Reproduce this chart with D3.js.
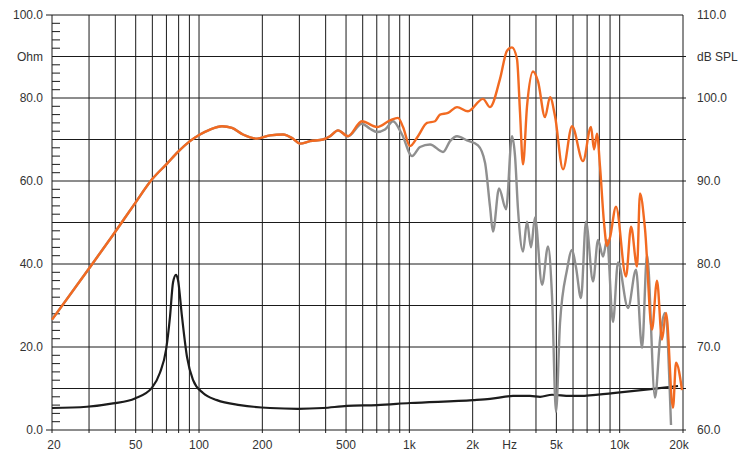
<!DOCTYPE html>
<html>
<head>
<meta charset="utf-8">
<script src="https://cdn.jsdelivr.net/npm/d3@7"></script>
<style>
  body { margin: 0; background: #fff; }
  svg { display: block; }
  text { font-family: "Liberation Sans", Arial, Helvetica, sans-serif; font-size: 12px; fill: #333; }
</style>
</head>
<body>
<script>
// impedance curve (left axis, Ohm)
const impFreq = [20, 29.3, 39, 49.6, 59.8, 65.2, 69.7, 72.8, 75.2, 77.7, 79.4, 83, 87.7, 93.6, 104.5, 121.7, 156.6, 217.6, 295.6, 388.6, 505, 702, 1007, 2007, 2418, 3110, 3746, 4182, 4768, 5804, 6475, 9294, 14400, 18940];
const impOhm = [5.3, 5.6, 6.4, 7.6, 10.2, 13.8, 19.3, 27.3, 35.5, 37.4, 36.2, 27.3, 17.6, 12.1, 8.9, 7.2, 6.0, 5.3, 5.1, 5.3, 5.8, 6.0, 6.5, 7.2, 7.5, 8.2, 8.2, 8.0, 8.5, 8.2, 8.2, 8.9, 9.9, 10.6];

// on-axis SPL (right axis, dB)
const splFreq = [20, 29.7, 39, 49.6, 59.8, 70.5, 79.4, 90.6, 101, 112.8, 128.6, 143.5, 161.8, 188.7, 217.6, 250.8, 279.8, 302, 337, 388.6, 419.6, 457.9, 511, 595, 702, 809, 883, 933, 1007, 1099, 1213, 1324, 1399, 1527, 1685, 1900, 2240, 2418, 2698, 2913, 3076, 3249, 3358, 3470, 3626, 3872, 4090, 4416, 4664, 4928, 5378, 5935, 6692, 7306, 7550, 7802, 8060, 8422, 8704, 8996, 9606, 10716, 11325, 12092, 12490, 13196, 14243, 15046, 15894, 16606, 17930, 18526, 19784];
const splDb = [73.3, 79.3, 83.5, 87.3, 90.2, 92.1, 93.5, 94.8, 95.6, 96.2, 96.6, 96.4, 95.6, 95.1, 95.5, 95.6, 95.1, 94.5, 94.8, 95.0, 95.4, 96.1, 95.4, 97.2, 96.5, 97.3, 97.6, 96.5, 94.2, 95.4, 97.0, 97.2, 98.0, 98.2, 98.9, 98.4, 99.9, 98.9, 102.3, 105.7, 106.1, 104.7, 98.3, 92.0, 99.0, 103.2, 102.0, 97.7, 100.1, 97.8, 91.4, 96.6, 92.4, 96.5, 93.8, 95.7, 91.8, 85.0, 82.2, 83.2, 86.9, 78.5, 84.5, 79.7, 88.5, 84.2, 72.1, 78.0, 70.9, 74.1, 62.7, 68.1, 64.8];

// off-axis SPL (right axis, dB), same as on-axis below ~500 Hz
const offFreq = [20, 29.7, 39, 49.6, 59.8, 70.5, 79.4, 90.6, 101, 112.8, 128.6, 143.5, 161.8, 188.7, 217.6, 250.8, 279.8, 302, 337, 388.6, 419.6, 457.9, 511, 595, 650, 702, 766, 836, 923, 1030, 1124, 1254, 1446, 1561, 1685, 1880, 2120, 2290, 2418, 2498, 2670, 2882, 3076, 3180, 3285, 3470, 3626, 3788, 3958, 4275, 4564, 4768, 4980, 5204, 5618, 5935, 6198, 6548, 6916, 7470, 7890, 8332, 8704, 9294, 9817, 10956, 11958, 12772, 13492, 14724, 15550, 16426, 17540];
const offDb = [73.3, 79.3, 83.5, 87.3, 90.2, 92.1, 93.5, 94.8, 95.6, 96.2, 96.6, 96.4, 95.6, 95.1, 95.5, 95.6, 95.1, 94.5, 94.8, 95.0, 95.4, 96.1, 95.4, 96.9, 96.3, 95.9, 96.2, 97.2, 95.6, 93.0, 94.1, 94.4, 93.5, 94.8, 95.4, 94.9, 94.3, 92.2, 86.9, 83.9, 89.1, 86.6, 95.4, 93.0, 86.6, 81.5, 85.1, 82.0, 85.6, 77.5, 82.1, 76.1, 62.2, 72.9, 79.3, 81.7, 79.6, 75.9, 85.1, 77.9, 82.9, 80.9, 82.9, 73.0, 80.2, 74.7, 79.3, 69.9, 81.1, 63.9, 70.9, 74.1, 60.6];

const gridFreqs = [20, 30, 40, 50, 60, 70, 80, 90, 100, 200, 300, 400, 500, 600, 700, 800, 900, 1000, 2000, 3000, 4000, 5000, 6000, 7000, 8000, 9000, 10000, 20000];
const xTickFreqs = [20, 50, 100, 200, 500, 1000, 2000, 3000, 5000, 10000, 20000];
const xTickNames = ["20", "50", "100", "200", "500", "1k", "2k", "Hz", "5k", "10k", "20k"];
const ohmTicks = [0, 20, 40, 60, 80, 90, 100];
const ohmNames = ["0.0", "20.0", "40.0", "60.0", "80.0", "Ohm", "100.0"];
const dbTicks = [60, 70, 80, 90, 100, 105, 110];
const dbNames = ["60.0", "70.0", "80.0", "90.0", "100.0", "dB SPL", "110.0"];

const W = 741, H = 452;
const plotL = 52, plotR = 683, plotT = 15, plotB = 430;

const svg = d3.select("body").append("svg")
    .attr("width", W)
    .attr("height", H);

const x = d3.scaleLog().domain([20, 20000]).range([plotL, plotR]);
const yOhm = d3.scaleLinear().domain([0, 100]).range([plotB, plotT]);
const yDb = d3.scaleLinear().domain([60, 110]).range([plotB, plotT]);

// vertical grid
svg.append("g").selectAll("line")
    .data(gridFreqs)
    .enter().append("line")
    .attr("x1", d => x(d)).attr("x2", d => x(d))
    .attr("y1", plotT).attr("y2", plotB + 3)
    .attr("stroke", "#1a1a1a")
    .attr("stroke-width", 1);

// horizontal grid every 10 ohm
svg.append("g").selectAll("line")
    .data(d3.range(0, 101, 10))
    .enter().append("line")
    .attr("x1", d => (d === 0 || d === 100) ? plotL - 6 : plotL)
    .attr("x2", d => d === 100 ? plotR : plotR + 3)
    .attr("y1", d => yOhm(d)).attr("y2", d => yOhm(d))
    .attr("stroke", "#1a1a1a")
    .attr("stroke-width", 1);

// minor ticks on the left axis
svg.append("g").selectAll("line")
    .data(d3.range(2, 100, 2).filter(d => d % 10 !== 0))
    .enter().append("line")
    .attr("x1", plotL).attr("x2", plotL + 8)
    .attr("y1", d => yOhm(d)).attr("y2", d => yOhm(d))
    .attr("stroke", "#1a1a1a")
    .attr("stroke-width", 1);

// curves
const line = (xs, ys, yScale) => d3.line()
    .x(i => x(xs[i]))
    .y(i => yScale(ys[i]))
    .curve(d3.curveMonotoneX)(d3.range(xs.length));

svg.append("path")
    .attr("d", line(impFreq, impOhm, yOhm))
    .attr("fill", "none")
    .attr("stroke", "#1c1c1c")
    .attr("stroke-width", 2.2);

svg.append("path")
    .attr("d", line(offFreq, offDb, yDb))
    .attr("fill", "none")
    .attr("stroke", "#8f8f8f")
    .attr("stroke-width", 2.4);

svg.append("path")
    .attr("d", line(splFreq, splDb, yDb))
    .attr("fill", "none")
    .attr("stroke", "#f26a21")
    .attr("stroke-width", 2.4);

// labels
svg.append("g").selectAll("text")
    .data(xTickFreqs)
    .enter().append("text")
    .attr("x", (d, i) => x(d) + (i === 0 ? 2 : i === xTickFreqs.length - 1 ? -4 : 0))
    .attr("y", 445)
    .attr("dy", "0.35em")
    .attr("text-anchor", "middle")
    .text((d, i) => xTickNames[i]);

svg.append("g").selectAll("text")
    .data(ohmTicks)
    .enter().append("text")
    .attr("x", 43)
    .attr("y", d => yOhm(d))
    .attr("dy", "0.35em")
    .attr("text-anchor", "end")
    .text((d, i) => ohmNames[i]);

svg.append("g").selectAll("text")
    .data(dbTicks)
    .enter().append("text")
    .attr("x", 697)
    .attr("y", d => yDb(d))
    .attr("dy", "0.35em")
    .attr("text-anchor", "start")
    .text((d, i) => dbNames[i]);
</script>
</body>
</html>
